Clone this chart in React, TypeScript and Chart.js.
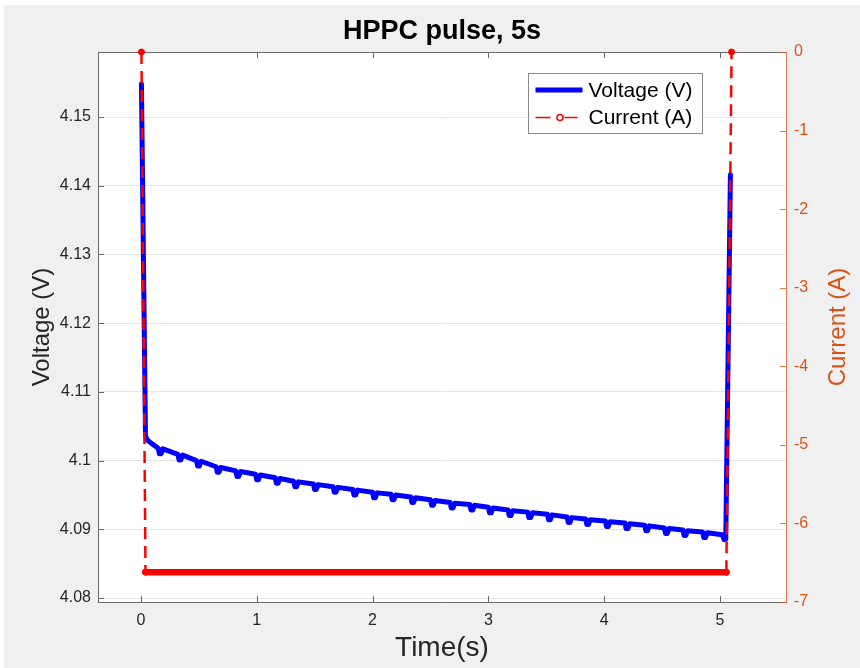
import React, { useEffect, useRef } from "react";
import { Chart, registerables } from "chart.js";

Chart.register(...registerables);

const FONT = "'Liberation Sans', Arial, Helvetica, sans-serif";

const TITLE = "HPPC pulse, 5s";
const X_LABEL = "Time(s)";
const Y_LABEL = "Voltage (V)";
const Y2_LABEL = "Current (A)";
const SERIES_NAMES = ["Voltage (V)", "Current (A)"];

const xTicks = [0, 1, 2, 3, 4, 5];
const yTicks = [4.08, 4.09, 4.1, 4.11, 4.12, 4.13, 4.14, 4.15];
const y2Ticks = [-7, -6, -5, -4, -3, -2, -1, 0];

// Voltage trace (s, V)
const timeV = [
  0.005, 0.04, 0.055, 0.1,
  0.15, 0.16, 0.175, 0.19,
  0.32, 0.33, 0.345, 0.36,
  0.48, 0.49, 0.505, 0.52,
  0.65, 0.66, 0.675, 0.69,
  0.82, 0.83, 0.845, 0.86,
  0.99, 1.0, 1.015, 1.03,
  1.16, 1.17, 1.185, 1.2,
  1.32, 1.33, 1.345, 1.36,
  1.49, 1.5, 1.515, 1.53,
  1.66, 1.67, 1.685, 1.7,
  1.83, 1.84, 1.855, 1.87,
  2.0, 2.01, 2.025, 2.04,
  2.16, 2.17, 2.185, 2.2,
  2.33, 2.34, 2.355, 2.37,
  2.5, 2.51, 2.525, 2.54,
  2.67, 2.68, 2.695, 2.71,
  2.84, 2.85, 2.865, 2.88,
  3.0, 3.01, 3.025, 3.04,
  3.17, 3.18, 3.195, 3.21,
  3.34, 3.35, 3.365, 3.38,
  3.51, 3.52, 3.535, 3.55,
  3.68, 3.69, 3.705, 3.72,
  3.84, 3.85, 3.865, 3.88,
  4.01, 4.02, 4.035, 4.05,
  4.18, 4.19, 4.205, 4.22,
  4.35, 4.36, 4.375, 4.39,
  4.52, 4.53, 4.545, 4.56,
  4.68, 4.69, 4.705, 4.72,
  4.85, 4.86, 4.875, 4.89,
  5.02, 5.035, 5.05, 5.09,
];
const voltage = [
  4.1548, 4.1036, 4.103, 4.1024,
  4.1018, 4.101, 4.101, 4.1017,
  4.1009, 4.1001, 4.1001, 4.1008,
  4.1, 4.0992, 4.0992, 4.0999,
  4.0991, 4.0983, 4.0983, 4.099,
  4.0985, 4.0977, 4.0977, 4.0984,
  4.098, 4.0972, 4.0972, 4.0979,
  4.0975, 4.0967, 4.0967, 4.0974,
  4.097, 4.0962, 4.0962, 4.0969,
  4.0966, 4.0958, 4.0958, 4.0965,
  4.0962, 4.0954, 4.0954, 4.0961,
  4.0958, 4.095, 4.095, 4.0957,
  4.0954, 4.0946, 4.0946, 4.0953,
  4.0951, 4.0943, 4.0943, 4.095,
  4.0947, 4.0939, 4.0939, 4.0946,
  4.0943, 4.0935, 4.0935, 4.0942,
  4.0939, 4.0931, 4.0931, 4.0938,
  4.0936, 4.0928, 4.0928, 4.0935,
  4.0932, 4.0924, 4.0924, 4.0931,
  4.0928, 4.092, 4.092, 4.0927,
  4.0925, 4.0917, 4.0917, 4.0924,
  4.0922, 4.0914, 4.0914, 4.0921,
  4.0918, 4.091, 4.091, 4.0917,
  4.0915, 4.0907, 4.0907, 4.0914,
  4.0912, 4.0904, 4.0904, 4.0911,
  4.0909, 4.0901, 4.0901, 4.0908,
  4.0906, 4.0898, 4.0898, 4.0905,
  4.0902, 4.0894, 4.0894, 4.0901,
  4.0899, 4.0891, 4.0891, 4.0898,
  4.0896, 4.0888, 4.0888, 4.0895,
  4.0892, 4.0885, 4.0886, 4.1416,
];

// Current trace (s, A)
const timeI = [0.005, 0.04, 5.055, 5.1];
const current = [0, -6.62, -6.62, 0];

const BLUE = "#0000ff";
const RED = "#ff0000";
const ORANGE = "#D95319";
const ORANGE_LINE = "rgba(217,83,25,0.75)";
const AXIS = "#6a6a6a";
const TEXT = "#262626";

const framePlugin = {
  id: "frame",
  beforeDraw(chart: any) {
    const { ctx, chartArea: a } = chart;
    ctx.save();
    ctx.fillStyle = "#ffffff";
    ctx.fillRect(a.left, a.top, a.right - a.left, a.bottom - a.top);
    ctx.restore();
  },
  beforeDatasetsDraw(chart: any) {
    const { ctx, chartArea: a, scales } = chart;
    const L = 6;
    ctx.save();
    ctx.lineWidth = 1;
    ctx.strokeStyle = AXIS;
    ctx.beginPath();
    ctx.moveTo(a.left, a.top + 0.5);
    ctx.lineTo(a.right, a.top + 0.5);
    for (const v of xTicks) {
      const px = Math.round(scales.x.getPixelForValue(v)) + 0.5;
      ctx.moveTo(px, a.bottom);
      ctx.lineTo(px, a.bottom - L);
      ctx.moveTo(px, a.top);
      ctx.lineTo(px, a.top + L);
    }
    for (const v of yTicks) {
      const py = Math.round(scales.y.getPixelForValue(v)) + 0.5;
      ctx.moveTo(a.left, py);
      ctx.lineTo(a.left + L, py);
    }
    ctx.stroke();
    ctx.strokeStyle = ORANGE_LINE;
    ctx.beginPath();
    for (const v of y2Ticks) {
      const py = Math.round(scales.y1.getPixelForValue(v)) + 0.5;
      ctx.moveTo(a.right, py);
      ctx.lineTo(a.right - L, py);
    }
    ctx.stroke();
    ctx.restore();
  },
  afterDatasetsDraw(chart: any) {
    const { ctx, chartArea: a, width } = chart;
    // right axis title (reads bottom-to-top, like MATLAB)
    ctx.save();
    ctx.translate(width - 22, (a.top + a.bottom) / 2);
    ctx.rotate(-Math.PI / 2);
    ctx.fillStyle = ORANGE;
    ctx.font = `24px ${FONT}`;
    ctx.textAlign = "center";
    ctx.textBaseline = "middle";
    ctx.fillText(Y2_LABEL, 0, 0);
    ctx.restore();

    // legend
    const w = 174;
    const h = 60;
    const bx = Math.round(a.right - 84 - w) + 0.5;
    const by = Math.round(a.top + 21) + 0.5;
    ctx.save();
    ctx.fillStyle = "#ffffff";
    ctx.fillRect(bx, by, w, h);
    ctx.strokeStyle = "#8a8a8a";
    ctx.lineWidth = 1;
    ctx.strokeRect(bx, by, w, h);
    const r1 = by + 16.5;
    ctx.strokeStyle = BLUE;
    ctx.lineWidth = 5;
    ctx.beginPath();
    ctx.moveTo(bx + 7, r1);
    ctx.lineTo(bx + 54, r1);
    ctx.stroke();
    const r2 = by + 44;
    ctx.strokeStyle = RED;
    ctx.lineWidth = 1.5;
    ctx.beginPath();
    ctx.moveTo(bx + 7, r2);
    ctx.lineTo(bx + 22, r2);
    ctx.moveTo(bx + 36, r2);
    ctx.lineTo(bx + 49, r2);
    ctx.stroke();
    ctx.beginPath();
    ctx.arc(bx + 31.5, r2, 3, 0, Math.PI * 2);
    ctx.fillStyle = "#ffffff";
    ctx.fill();
    ctx.stroke();
    ctx.fillStyle = "#000000";
    ctx.font = `21px ${FONT}`;
    ctx.textBaseline = "middle";
    ctx.textAlign = "left";
    ctx.fillText(SERIES_NAMES[0], bx + 60, r1 + 1);
    ctx.fillText(SERIES_NAMES[1], bx + 60, r2 + 1);
    ctx.restore();
  },
};

export default function App() {
  const ref = useRef<HTMLCanvasElement>(null);
  useEffect(() => {
    const canvas = ref.current;
    if (!canvas) return;
    const isFlat = (c: any) => current[c.p0DataIndex] === current[c.p1DataIndex];
    const chart = new Chart(canvas, {
      type: "line",
      data: {
        datasets: [
          {
            label: SERIES_NAMES[0],
            data: timeV.map((t, i) => ({ x: t, y: voltage[i] })),
            yAxisID: "y",
            borderColor: BLUE,
            backgroundColor: BLUE,
            borderWidth: 5,
            pointRadius: 0,
            tension: 0,
            borderJoinStyle: "round",
            borderCapStyle: "round",
            order: 2,
          },
          {
            label: SERIES_NAMES[1],
            data: timeI.map((t, i) => ({ x: t, y: current[i] })),
            yAxisID: "y1",
            borderColor: RED,
            backgroundColor: RED,
            borderWidth: 2.5,
            borderDash: [12, 7],
            pointRadius: 3,
            pointBackgroundColor: RED,
            pointBorderColor: RED,
            pointBorderWidth: 1,
            tension: 0,
            clip: false,
            order: 1,
            segment: {
              borderWidth: (c: any) => (isFlat(c) ? 6.5 : undefined),
              borderDash: (c: any) => (isFlat(c) ? [] : undefined),
              borderCapStyle: (c: any) => (isFlat(c) ? "round" : undefined),
            },
          } as any,
        ],
      },
      options: {
        responsive: false,
        animation: false,
        devicePixelRatio: 1,
        layout: { padding: 0 },
        plugins: {
          legend: { display: false },
          tooltip: { enabled: false },
          title: {
            display: true,
            text: TITLE,
            fullSize: false,
            color: "#000000",
            font: { family: FONT, size: 27, weight: "bold" },
            padding: { top: 10.8, bottom: 3.8 },
          },
        },
        scales: {
          x: {
            type: "linear",
            min: -0.37,
            max: 5.57,
            afterBuildTicks: (s: any) => {
              s.ticks = xTicks.map((v) => ({ value: v }));
            },
            afterFit: (s: any) => {
              s.height = 66;
            },
            grid: { display: true, color: "rgba(0,0,0,0)", drawTicks: false },
            border: { display: true, color: AXIS, width: 1 },
            ticks: {
              color: TEXT,
              font: { family: FONT, size: 16 },
              padding: 9.4,
              maxRotation: 0,
              autoSkip: false,
              callback: (v: any) => String(v),
            },
            title: {
              display: true,
              text: X_LABEL,
              color: TEXT,
              font: { family: FONT, size: 28 },
              padding: { top: 0, bottom: 3 },
            },
          },
          y: {
            type: "linear",
            position: "left",
            min: 4.07942,
            max: 4.15946,
            afterBuildTicks: (s: any) => {
              s.ticks = yTicks.map((v) => ({ value: v }));
            },
            afterFit: (s: any) => {
              s.width = 94;
            },
            grid: { color: "#e6e6e6", drawTicks: false },
            border: { display: true, color: AXIS, width: 1 },
            ticks: {
              color: TEXT,
              font: { family: FONT, size: 16 },
              padding: 7,
              callback: (v: any) => Number(v).toFixed(2).replace(/0$/, ""),
            },
            title: {
              display: true,
              text: Y_LABEL,
              color: TEXT,
              font: { family: FONT, size: 24 },
              padding: { top: 23.6, bottom: 0 },
            },
          },
          y1: {
            type: "linear",
            position: "right",
            min: -7,
            max: 0,
            afterBuildTicks: (s: any) => {
              s.ticks = y2Ticks.map((v) => ({ value: v }));
            },
            afterFit: (s: any) => {
              s.width = 74;
            },
            grid: { drawOnChartArea: false, drawTicks: false },
            border: { display: true, color: ORANGE_LINE, width: 1 },
            ticks: {
              color: ORANGE,
              font: { family: FONT, size: 16 },
              padding: 8,
              callback: (v: any) => String(v),
            },
            title: { display: false, text: Y2_LABEL },
          },
        },
      } as any,
      plugins: [framePlugin],
    });
    return () => chart.destroy();
  }, []);

  return (
    <div style={{ position: "fixed", left: 0, top: 0, width: 860, height: 668, background: "#ffffff" }}>
      <canvas
        ref={ref}
        width={856}
        height={663}
        style={{ position: "absolute", left: 4, top: 5, width: 856, height: 663, background: "#f0f0f0" }}
      />
    </div>
  );
}
